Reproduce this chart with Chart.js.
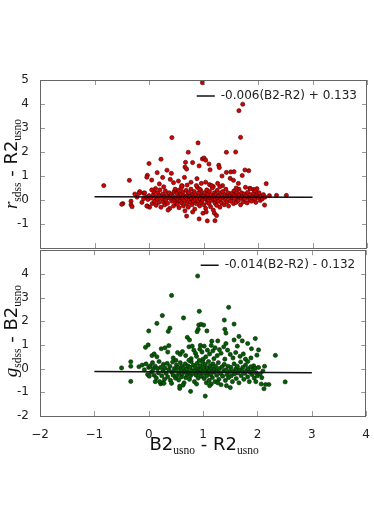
<!DOCTYPE html>
<html>
<head>
<meta charset="utf-8">
<script src="https://cdn.jsdelivr.net/npm/chart.js@4.4.1/dist/chart.umd.min.js"></script>
<style>
  html, body { margin: 0; padding: 0; background: #fff; }
  #wrap { position: relative; width: 374px; height: 529px; }
  #wrap canvas { position: absolute; left: 0; }
  #top-chart { top: 0; }
  #bottom-chart { top: 240px; }
</style>
</head>
<body>
<div id="wrap">
  <canvas id="top-chart" width="374" height="262"></canvas>
  <canvas id="bottom-chart" width="374" height="289"></canvas>
</div>
<script>
// B2-R2 colour (x) vs r_sdss - R2_usno (top panel)
const redPts = [
  [0.98,4.89],[1.72,3.99],[1.65,3.72],[1.68,2.61],[0.42,2.60],[0.90,2.38],[0.72,1.99],[1.42,1.99],[1.59,2.00],
  [0.98,1.71],[1.01,1.75],[1.04,1.66],[0.80,1.56],[0.67,1.57],[1.10,1.50],[0.22,1.70],[0.00,1.52],[1.28,1.45],
  [1.29,1.35],[0.66,1.37],[0.69,1.29],[0.92,1.42],[1.76,1.25],[1.83,1.22],[1.71,1.02],[1.50,1.17],[1.56,1.18],
  [1.42,1.15],[1.34,1.00],[1.12,1.26],[0.33,1.24],[0.41,1.11],[0.15,1.14],[-0.03,1.03],[-0.04,0.95],[-0.36,0.82],
  [-0.83,0.60],[2.15,0.68],[1.98,0.47],[1.85,0.49],[2.34,0.19],[2.52,0.19],[2.21,0.18],
  [0.05,0.83],[0.19,0.67],[0.25,0.94],[0.39,0.86],[0.45,0.72],[0.54,0.79],[0.61,0.58],[0.65,0.94],[0.77,0.74],
  [0.88,0.89],[0.96,0.69],[1.04,0.74],[1.11,0.64],[1.18,0.56],[1.26,0.69],[1.35,0.60],[1.49,0.90],[1.55,0.82],
  [1.64,0.69],[1.77,0.53],[1.86,0.47],[1.92,0.44],[-0.17,0.35],[-0.10,0.28],[-0.26,0.25],
  [-0.48,-0.15],[-0.50,-0.18],[-0.33,-0.05],[-0.33,-0.20],[-0.31,-0.28],[-0.18,0.28],[-0.13,-0.10],[-0.08,0.30],
  [-0.05,0.12],[-0.03,-0.25],[-0.02,0.02],[0.00,0.18],[0.01,-0.30],[-0.10,0.05],[-0.22,0.12],[-0.04,-0.25],
  [0.04,0.08],[0.06,-0.15],[0.08,0.22],[0.09,0.35],[0.10,-0.05],[0.12,0.12],[0.13,-0.22],[0.15,0.02],[0.16,0.30],
  [0.18,-0.10],[0.19,0.18],[0.20,0.42],[0.22,-0.30],[0.23,0.06],[0.25,0.25],[0.26,-0.08],[0.28,0.14],[0.29,-0.20],
  [0.30,0.38],[0.31,0.00],[0.33,0.20],[0.34,-0.14],[0.36,0.10],[0.37,0.30],[0.38,-0.35],[0.40,0.05],[0.41,0.22],
  [0.42,-0.05],[0.44,0.15],[0.45,-0.25],[0.46,0.35],[0.47,0.00],[0.48,0.45],[0.49,-0.12],[0.12,0.48],[0.27,0.55],
  [0.35,-0.42],[0.05,0.42],
  [0.50,0.10],[0.51,0.28],[0.52,-0.18],[0.53,0.02],[0.54,0.40],[0.55,-0.32],[0.56,0.15],[0.57,-0.05],[0.58,0.25],
  [0.59,0.50],[0.60,-0.12],[0.61,0.08],[0.62,0.33],[0.63,-0.25],[0.64,0.18],[0.65,-0.02],[0.66,-0.45],[0.67,0.12],
  [0.68,0.40],[0.69,-0.15],[0.70,0.05],[0.71,0.22],[0.72,-0.30],[0.73,0.30],[0.74,0.00],[0.75,0.15],[0.76,-0.10],
  [0.77,0.45],[0.78,0.08],[0.79,-0.20],[0.80,0.25],[0.81,-0.05],[0.82,0.12],[0.83,0.35],[0.84,-0.38],[0.85,0.02],
  [0.86,0.20],[0.87,-0.15],[0.88,0.10],[0.89,0.52],[0.90,-0.05],[0.91,0.30],[0.92,0.15],[0.93,-0.25],[0.94,0.05],
  [0.95,0.40],[0.96,-0.10],[0.97,0.22],[0.98,0.00],[0.99,-0.55],[0.60,0.60],[0.70,0.62],[0.80,-0.50],[0.87,0.60],
  [0.93,0.45],[0.92,-0.79],[1.07,-0.87],[1.21,-0.86],[0.69,-0.67],
  [1.00,0.18],[1.01,-0.20],[1.02,0.30],[1.03,0.05],[1.04,-0.35],[1.05,0.12],[1.06,0.42],[1.07,-0.08],[1.08,0.25],
  [1.09,0.00],[1.10,-0.15],[1.11,0.35],[1.12,0.10],[1.13,-0.28],[1.14,0.20],[1.15,-0.02],[1.16,0.50],[1.17,0.08],
  [1.18,-0.42],[1.19,0.15],[1.20,0.30],[1.21,-0.12],[1.22,0.02],[1.23,0.22],[1.24,-0.22],[1.25,0.40],[1.26,0.10],
  [1.27,-0.05],[1.28,0.18],[1.30,-0.30],[1.31,0.28],[1.32,0.05],[1.33,-0.12],[1.35,0.35],[1.36,0.12],[1.38,-0.20],
  [1.39,0.22],[1.40,0.00],[1.41,0.45],[1.43,-0.08],[1.44,0.15],[1.45,0.30],[1.46,-0.25],[1.48,0.08],[1.49,0.20],
  [1.05,-0.50],[1.20,-0.55],[1.15,0.60],[1.30,0.55],[1.24,-0.65],
  [1.50,-0.05],[1.52,0.28],[1.53,0.10],[1.55,-0.15],[1.56,0.38],[1.57,0.05],[1.59,0.20],[1.60,-0.10],[1.61,0.30],
  [1.63,0.12],[1.64,-0.02],[1.65,0.45],[1.66,0.22],[1.68,-0.20],[1.69,0.08],[1.70,0.30],[1.72,0.15],[1.73,-0.08],
  [1.75,0.25],[1.76,0.05],[1.78,0.18],[1.80,-0.12],[1.81,0.32],[1.83,0.10],[1.85,0.00],[1.86,0.22],[1.88,-0.05],
  [1.90,0.15],[1.92,0.28],[1.94,0.05],[1.96,-0.10],[1.98,0.20],[2.00,0.10],[2.02,0.30],[2.04,-0.02],[2.06,0.15],
  [2.08,0.05],[2.10,0.22],[2.13,0.12],[2.12,-0.21],[1.95,0.38],[1.60,0.50]
];

// B2-R2 colour (x) vs g_sdss - B2_usno (bottom panel)
const greenPts = [
  [0.90,3.91],[0.42,3.09],[0.93,2.42],[1.47,2.59],[0.25,2.24],[0.64,2.14],[1.39,2.05],[1.57,1.88],[0.15,1.91],
  [0.92,1.84],[0.96,1.87],[1.01,1.84],[0.91,1.66],[0.89,1.56],[0.39,1.71],[0.36,1.57],[0.00,1.59],[1.07,1.59],
  [1.40,1.66],[1.42,1.50],[1.66,1.36],[1.57,1.21],[0.71,1.32],[0.75,1.21],[1.16,1.16],[1.27,1.17],[1.72,1.17],
  [1.82,1.06],[1.96,1.27],[1.42,1.06],[-0.01,1.00],[-0.06,0.90],[0.37,0.97],[0.23,0.84],[1.89,0.84],[2.02,0.79],
  [2.33,0.56],[1.99,0.57],[-0.33,0.29],[-0.33,0.10],[-0.50,0.03],[-0.33,-0.54],[2.51,-0.56],[2.12,-0.85],
  [2.21,-0.67],[2.15,-0.67],[1.04,-1.16],[0.77,-0.96],[0.57,-0.84],[0.57,-0.74],[0.22,-0.64],[0.25,-0.60],
  [1.50,-0.80],[1.43,-0.72],
  [0.06,0.55],[0.10,0.62],[0.15,0.50],[0.30,0.88],[0.35,0.70],[0.45,0.45],[0.53,0.68],[0.58,0.60],[0.62,0.72],
  [0.68,0.55],[0.74,0.92],[0.80,0.95],[0.83,0.78],[0.86,0.65],[0.88,0.52],[0.94,0.82],[0.98,0.70],[1.02,0.95],
  [1.05,0.50],[1.08,0.78],[1.12,0.62],[1.15,0.98],[1.18,0.75],[1.22,0.88],[1.26,0.55],[1.30,0.80],[1.33,0.65],
  [1.38,0.92],[1.45,0.78],[1.50,0.60],[1.55,0.45],[1.60,0.68],[1.63,0.95],[1.68,0.52],[1.74,0.62],[1.78,0.40],
  [1.82,0.30],[1.93,0.12],[1.88,0.45],[0.95,0.98],[1.00,0.40],[0.78,0.42],[0.50,0.35],[1.20,0.42],[1.40,0.40],
  [-0.18,0.08],[-0.12,0.15],[-0.08,-0.05],[-0.05,0.20],[-0.02,-0.25],[0.00,0.05],[0.01,-0.32],[0.03,0.12],
  [0.05,-0.15],[0.07,0.25],[0.08,-0.02],[0.10,-0.28],[0.12,0.10],[0.14,-0.40],[0.16,0.00],[0.18,-0.18],[0.19,0.30],
  [0.20,-0.55],[0.22,0.05],[0.24,-0.30],[0.26,-0.10],[0.27,0.18],[0.29,-0.45],[0.30,0.02],[0.32,-0.20],[0.34,0.22],
  [0.35,-0.35],[0.37,-0.05],[0.39,0.10],[0.40,-0.50],[0.42,-0.15],[0.44,0.28],[0.45,-0.28],[0.47,0.00],[0.49,-0.40],
  [0.28,-0.62],[0.12,-0.55],[0.42,-0.62],
  [0.50,-0.10],[0.51,0.15],[0.52,-0.30],[0.54,0.05],[0.55,-0.48],[0.56,-0.18],[0.58,0.25],[0.59,-0.05],[0.60,-0.35],
  [0.61,0.10],[0.62,-0.22],[0.64,0.02],[0.65,-0.60],[0.66,-0.12],[0.67,0.20],[0.68,-0.38],[0.70,-0.02],[0.71,-0.25],
  [0.72,0.12],[0.73,-0.15],[0.75,-0.45],[0.76,0.05],[0.77,-0.30],[0.78,0.30],[0.80,-0.08],[0.81,-0.20],[0.82,0.15],
  [0.84,-0.55],[0.85,-0.10],[0.86,0.05],[0.87,-0.28],[0.89,0.22],[0.90,-0.15],[0.91,-0.40],[0.92,0.00],[0.94,-0.22],
  [0.95,0.12],[0.96,-0.05],[0.97,-0.32],[0.99,0.28],[0.63,-0.70],[0.88,-0.65],[0.74,0.35],[0.93,0.35],
  [1.00,-0.12],[1.01,0.08],[1.02,-0.42],[1.03,-0.20],[1.04,0.18],[1.05,-0.05],[1.06,-0.60],[1.07,-0.30],[1.08,0.02],
  [1.09,-0.15],[1.10,0.30],[1.11,-0.50],[1.12,-0.08],[1.13,0.12],[1.14,-0.25],[1.15,-0.65],[1.16,0.00],[1.17,-0.38],
  [1.18,0.20],[1.20,-0.15],[1.21,-0.02],[1.22,-0.55],[1.23,0.10],[1.25,-0.28],[1.26,-0.10],[1.28,0.25],[1.29,-0.45],
  [1.30,0.00],[1.32,-0.20],[1.33,-0.68],[1.35,0.08],[1.36,-0.32],[1.38,-0.10],[1.39,0.18],[1.41,-0.50],[1.42,-0.05],
  [1.44,-0.25],[1.46,0.10],[1.47,-0.38],[1.49,-0.12],[1.12,-0.72],[1.27,-0.60],
  [1.51,0.05],[1.52,-0.30],[1.54,-0.55],[1.55,-0.12],[1.57,0.20],[1.58,-0.22],[1.60,-0.02],[1.61,-0.42],[1.63,0.10],
  [1.64,-0.18],[1.66,-0.60],[1.67,-0.05],[1.69,0.28],[1.70,-0.30],[1.72,-0.12],[1.73,0.05],[1.75,-0.45],[1.77,-0.20],
  [1.78,0.15],[1.80,-0.08],[1.82,-0.35],[1.83,0.00],[1.85,-0.55],[1.86,-0.15],[1.88,0.08],[1.90,-0.25],[1.92,-0.05],
  [1.94,-0.40],[1.96,0.02],[1.98,-0.18],[2.00,-0.30],[2.02,0.05],[2.05,-0.22],[2.08,-0.38],[2.10,-0.10],[2.13,0.10],
  [1.97,-0.55],[2.07,-0.65]
];

// linear fits, end points at B2-R2 = -1 and 3
const fitX = [-1, 3];
const redFitY = [0.139, 0.115];
const greenFitY = [-0.118, -0.174];
const redFitLabel = '-0.006(B2-R2) + 0.133';
const greenFitLabel = '-0.014(B2-R2) - 0.132';

const xRange = [-2, 4];
const yRange = [-2, 5];

Chart.defaults.font.family = '"DejaVu Sans", sans-serif';
Chart.defaults.color = '#222';

const sub = '11.5px "Liberation Serif", serif';
const big = '18px "DejaVu Sans", sans-serif';
const ital = 'italic 19px "Liberation Serif", serif';

// draws a title made of several runs of text (for subscripts), centred on (x, y)
const drawRich = (ctx, parts, x, y, rotate) => {
    ctx.save();
    ctx.translate(x, y);
    if (rotate) ctx.rotate(-Math.PI / 2);
    ctx.textAlign = 'left';
    ctx.textBaseline = 'alphabetic';
    ctx.fillStyle = '#111';
    let total = 0;
    parts.forEach(p => { ctx.font = p.font; total += ctx.measureText(p.text).width; });
    let cx = -total / 2;
    parts.forEach(p => {
        ctx.font = p.font;
        ctx.fillText(p.text, cx, p.dy || 0);
        cx += ctx.measureText(p.text).width;
    });
    ctx.restore();
};

// frame, inward ticks on all four sides, and the titles
const framePlugin = {
    id: 'frame',
    afterLayout(chart, args, opts) {
        // move the legend into the upper right corner of the plot
        const lg = chart.legend, a = chart.chartArea;
        if (!lg) return;
        const w = lg.width, h = lg.height;
        lg.left = a.right - w - opts.legendDx;
        lg.right = lg.left + w;
        lg.top = a.top + opts.legendDy;
        lg.bottom = lg.top + h;
    },
    afterDraw(chart, args, opts) {
        const { ctx, chartArea: a, scales: { x, y } } = chart;
        ctx.save();
        ctx.lineWidth = 1;
        ctx.strokeStyle = '#999';
        ctx.beginPath();
        x.ticks.forEach(t => {
            const px = Math.round(x.getPixelForValue(t.value)) + 0.5;
            ctx.moveTo(px, a.bottom); ctx.lineTo(px, a.bottom - 5);
            ctx.moveTo(px, a.top); ctx.lineTo(px, a.top + 5);
        });
        y.ticks.forEach(t => {
            const py = Math.round(y.getPixelForValue(t.value)) + 0.5;
            ctx.moveTo(a.left, py); ctx.lineTo(a.left + 5, py);
            ctx.moveTo(a.right, py); ctx.lineTo(a.right - 5, py);
        });
        ctx.stroke();
        ctx.strokeStyle = '#666';
        ctx.strokeRect(Math.round(a.left) + 0.5, Math.round(a.top) + 0.5,
            Math.round(a.width) - 1, Math.round(a.height));
        ctx.restore();
        if (opts.yTitle) drawRich(ctx, opts.yTitle, 17, (a.top + a.bottom) / 2 + (opts.yShift || 0), true);
        if (opts.xTitle) drawRich(ctx, opts.xTitle, (a.left + a.right) / 2 + 1, opts.xTitleY, false);
    }
};

const makeChart = (id, pts, fitY, fitLabel, colour, edge, showX, padding, framing) => {
    const ctx = document.getElementById(id).getContext('2d');
    return new Chart(ctx, {
        type: 'scatter',
        data: {
            datasets: [
                {
                    type: 'line',
                    label: fitLabel,
                    data: fitX.map((v, i) => ({ x: v, y: fitY[i] })),
                    borderColor: '#111',
                    backgroundColor: '#111',
                    borderWidth: 1.5,
                    pointRadius: 0,
                    order: 0
                },
                {
                    label: 'data',
                    data: pts.map(p => ({ x: p[0], y: p[1] })),
                    backgroundColor: colour,
                    borderColor: edge,
                    borderWidth: 0.6,
                    pointRadius: 2.1,
                    order: 1
                }
            ]
        },
        options: {
            responsive: false,
            devicePixelRatio: 1,
            animation: false,
            layout: { padding },
            plugins: {
                tooltip: { enabled: false },
                legend: {
                    position: 'chartArea',
                    align: 'start',
                    labels: {
                        filter: item => item.datasetIndex === 0,
                        usePointStyle: true,
                        pointStyle: 'line',
                        pointStyleWidth: 18,
                        boxWidth: 18,
                        boxHeight: 10,
                        padding: 6,
                        color: '#222',
                        font: { size: 12 }
                    }
                },
                frame: framing
            },
            scales: {
                x: {
                    min: xRange[0], max: xRange[1],
                    ticks: {
                        display: showX, stepSize: 1, padding: 4,
                        color: '#222', font: { size: 12 },
                        callback: v => String(v).replace('-', '\u2212')
                    },
                    grid: { display: false },
                    border: { display: false },
                    afterFit: s => { s.height = showX ? 30 : 0; }
                },
                y: {
                    min: yRange[0], max: yRange[1],
                    ticks: {
                        stepSize: 1, padding: 3,
                        color: '#222', font: { size: 12 },
                        callback: v => (showX ? v === yRange[1] : v === yRange[0]) ? '' : String(v)
                    },
                    grid: { display: false },
                    border: { display: false },
                    afterFit: s => { s.width = 40; }
                }
            }
        },
        plugins: [framePlugin]
    });
};

makeChart('top-chart', redPts, redFitY, redFitLabel, '#d80000', '#3a0000', false,
    { top: 80, right: 7, bottom: 14, left: 0 },
    {
        legendDx: 0, legendDy: 4,
        yTitle: [
            { text: 'r', font: ital },
            { text: 'sdss', font: sub, dy: 4 },
            { text: ' - R2', font: big },
            { text: 'usno', font: sub, dy: 4 }
        ]
    });

makeChart('bottom-chart', greenPts, greenFitY, greenFitLabel, '#006000', '#0d1f0d', true,
    { top: 8, right: 7, bottom: 83, left: 0 },
    {
        legendDx: 1, legendDy: 3, yShift: -2, xTitleY: 210,
        yTitle: [
            { text: 'g', font: ital },
            { text: 'sdss', font: sub, dy: 4 },
            { text: ' - B2', font: big },
            { text: 'usno', font: sub, dy: 4 }
        ],
        xTitle: [
            { text: 'B2', font: big },
            { text: 'usno', font: sub, dy: 4 },
            { text: ' - R2', font: big },
            { text: 'usno', font: sub, dy: 4 }
        ]
    });
</script>
</body>
</html>
